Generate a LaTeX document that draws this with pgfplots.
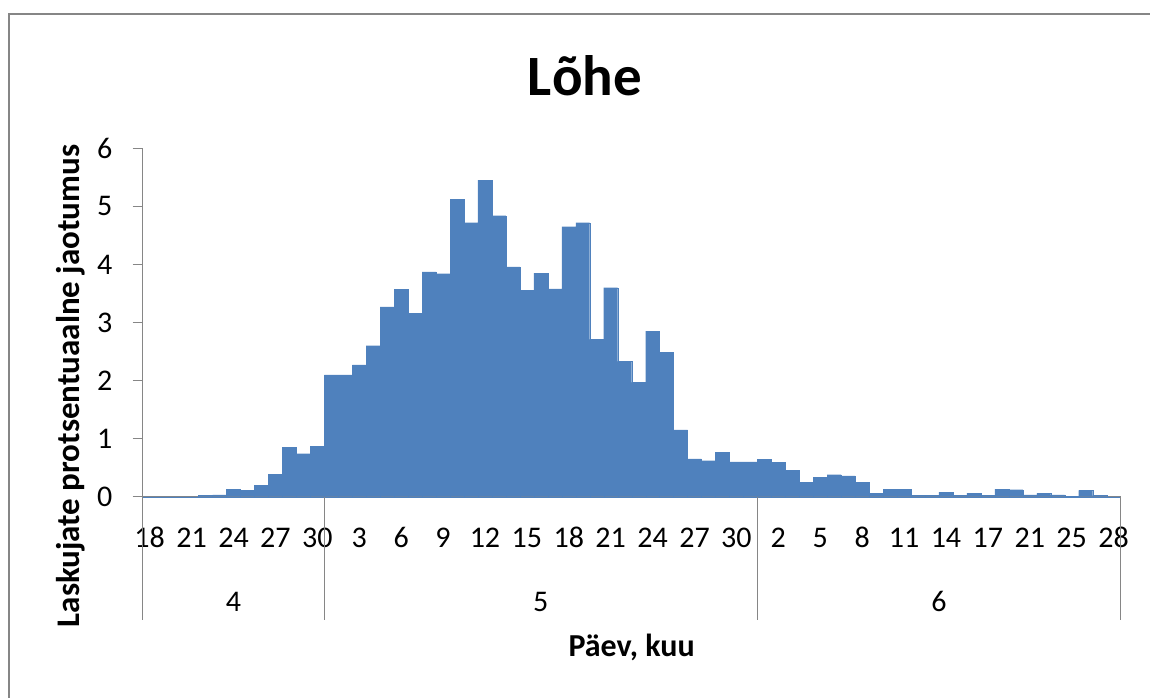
\documentclass[border=0pt]{standalone}
\usepackage{fontspec}
\setmainfont{Carlito}
\usepackage{pgfplots}
\pgfplotsset{compat=1.18}
\definecolor{barblue}{HTML}{4F81BD}
\definecolor{axgray}{HTML}{868686}
\begin{document}
\begin{tikzpicture}
\useasboundingbox (0,0) rectangle (575pt,-348.5pt);
\draw[axgray,line width=1pt] (4.25pt,-349pt) -- (4.25pt,-6.75pt) -- (576pt,-6.75pt);
\begin{axis}[
  at={(71.35pt,-248.35pt)}, anchor=south west,
  scale only axis, width=488.95pt, height=174.2pt,
  xmin=-0.5, xmax=69.5, ymin=0, ymax=6,
  axis x line=bottom, axis y line=left,
  axis line style={axgray, line width=0.75pt, -},
  ytick={0,1,2,3,4,5,6},
  ytick style={axgray, line width=0.75pt},
  tick align=outside, major tick length=5pt,
  xtick={0,3,...,69},
  xticklabels={18,21,24,27,30,3,6,9,12,15,18,21,24,27,30,2,5,8,11,14,17,21,25,28},
  xtick style={draw=none},
  xticklabel style={anchor=base, inner sep=0pt, yshift=-20.5pt},
  yticklabel style={anchor=east, inner sep=0pt, xshift=-10pt},
  ticklabel style={font=\fontsize{15}{18}\selectfont},
  /pgf/number format/assume math mode=true,
  clip=false,
]
\addplot[ybar, bar width=1, bar shift=0pt, fill=barblue, draw=barblue, line width=0.1pt] coordinates {
(0,0) (1,0) (2,0) (3,0) (4,0.02) (5,0.03) (6,0.13) (7,0.11) (8,0.20) (9,0.39)
(10,0.85) (11,0.74) (12,0.87) (13,2.10) (14,2.10) (15,2.27) (16,2.60) (17,3.27) (18,3.57) (19,3.16)
(20,3.87) (21,3.84) (22,5.12) (23,4.72) (24,5.45) (25,4.84) (26,3.96) (27,3.55) (28,3.85) (29,3.58)
(30,4.65) (31,4.72) (32,2.71) (33,3.60) (34,2.33) (35,1.97) (36,2.85) (37,2.49) (38,1.15) (39,0.65)
(40,0.62) (41,0.77) (42,0.60) (43,0.60) (44,0.64) (45,0.59) (46,0.46) (47,0.25) (48,0.33) (49,0.38)
(50,0.36) (51,0.25) (52,0.06) (53,0.13) (54,0.13) (55,0.02) (56,0.02) (57,0.08) (58,0.02) (59,0.06)
(60,0.02) (61,0.13) (62,0.12) (63,0.03) (64,0.06) (65,0.03) (66,0.01) (67,0.11) (68,0.02) (69,0)
};
\draw[axgray, line width=0.75pt] (axis cs:-0.5,0) -- ++(0pt,-61.5pt);
\draw[axgray, line width=0.75pt] (axis cs:12.5,0) -- ++(0pt,-61.5pt);
\draw[axgray, line width=0.75pt] (axis cs:43.5,0) -- ++(0pt,-61.5pt);
\draw[axgray, line width=0.75pt] (axis cs:69.5,0) -- ++(0pt,-61.5pt);
\node[anchor=base, inner sep=0pt, font=\fontsize{15}{18}\selectfont] at ([yshift=-57.5pt]axis cs:6,0) {4};
\node[anchor=base, inner sep=0pt, font=\fontsize{15}{18}\selectfont] at ([yshift=-57.5pt]axis cs:28,0) {5};
\node[anchor=base, inner sep=0pt, font=\fontsize{15}{18}\selectfont] at ([yshift=-57.5pt]axis cs:56.5,0) {6};
\end{axis}
\node[anchor=base, inner sep=0pt, font=\fontsize{28.5}{34}\selectfont\bfseries] at (292.5pt,-47.5pt) {Lõhe};
\node[anchor=base, inner sep=0pt, font=\fontsize{16}{19}\selectfont\bfseries] at (315.8pt,-328pt) {Päev, kuu};
\node[rotate=90, anchor=center, inner sep=0pt, font=\fontsize{16.5}{20}\selectfont\bfseries] at (35.5pt,-193pt) {Laskujate protsentuaalne jaotumus};
\end{tikzpicture}
\end{document}
